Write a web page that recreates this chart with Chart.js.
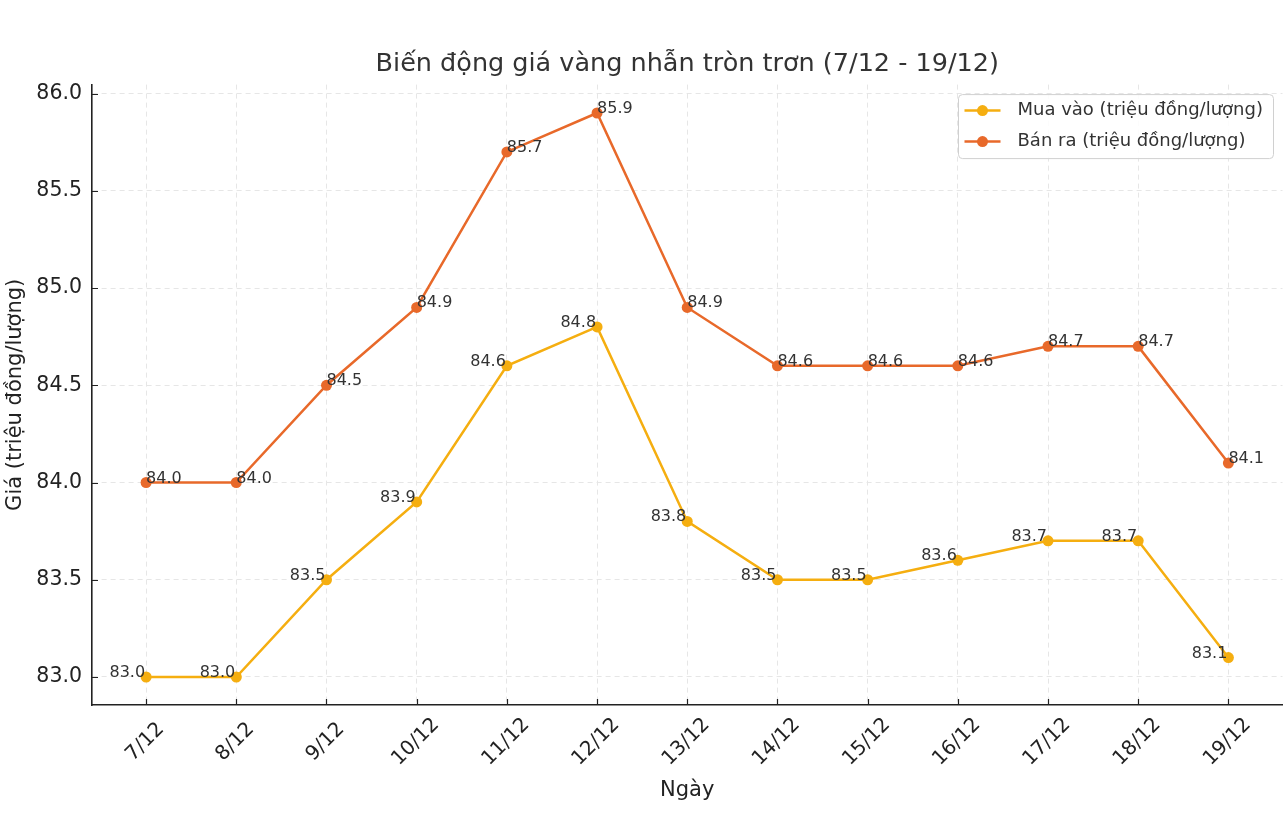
<!DOCTYPE html>
<html>
<head>
<meta charset="utf-8">
<script src="https://cdn.jsdelivr.net/npm/chart.js@4"></script>
<style>
  html, body { margin: 0; padding: 0; background: #fff; }
  #wrap { width: 1288px; height: 815px; }
</style>
</head>
<body>
<div id="wrap"><canvas id="goldChart" width="1288" height="815"></canvas></div>
<script>
const days = ['7/12', '8/12', '9/12', '10/12', '11/12', '12/12', '13/12', '14/12', '15/12', '16/12', '17/12', '18/12', '19/12'];
const buyPrice = [83.0, 83.0, 83.5, 83.9, 84.6, 84.8, 83.8, 83.5, 83.5, 83.6, 83.7, 83.7, 83.1];
const sellPrice = [84.0, 84.0, 84.5, 84.9, 85.7, 85.9, 84.9, 84.6, 84.6, 84.6, 84.7, 84.7, 84.1];
const yTicks = [83.0, 83.5, 84.0, 84.5, 85.0, 85.5, 86.0];

const buyColor = '#f5ae10';
const sellColor = '#e8692a';
const font = 'DejaVu Sans';

const toPoints = arr => arr.map((v, i) => ({ x: i, y: v }));

// value labels next to each point (matplotlib-style annotations)
const valueLabels = {
    id: 'valueLabels',
    afterDatasetsDraw(chart) {
        const c = chart.ctx;
        c.save();
        c.font = '16px "' + font + '"';
        c.fillStyle = '#333';
        c.textBaseline = 'alphabetic';
        chart.data.datasets.forEach((ds, di) => {
            const meta = chart.getDatasetMeta(di);
            meta.data.forEach((pt, i) => {
                const txt = ds.data[i].y.toFixed(1);
                if (di === 0) {
                    c.textAlign = 'right';
                    c.fillText(txt, pt.x - 1, pt.y);
                } else {
                    c.textAlign = 'left';
                    c.fillText(txt, pt.x, pt.y);
                }
            });
        });
        c.restore();
    }
};

// inward tick marks + centred, rotated x labels like matplotlib
const axisDecor = {
    id: 'axisDecor',
    afterDraw(chart) {
        const c = chart.ctx;
        const area = chart.chartArea;
        const xs = chart.scales.x, ys = chart.scales.y;
        c.save();
        c.strokeStyle = '#222';
        c.lineWidth = 1.2;
        c.beginPath();
        xs.ticks.forEach(t => {
            const px = Math.round(xs.getPixelForValue(t.value)) + 0.5;
            c.moveTo(px, area.bottom);
            c.lineTo(px, area.bottom - 6);
        });
        ys.ticks.forEach(t => {
            const py = Math.round(ys.getPixelForValue(t.value)) + 0.5;
            c.moveTo(area.left, py);
            c.lineTo(area.left + 6, py);
        });
        c.stroke();

        c.font = '20px "' + font + '"';
        c.fillStyle = '#222';
        c.textAlign = 'center';
        c.textBaseline = 'middle';
        days.forEach((d, i) => {
            const px = xs.getPixelForValue(i);
            c.save();
            c.translate(px - 1, area.bottom + 37);
            c.rotate(-Math.PI / 4);
            c.fillText(d, 0, 0);
            c.restore();
        });
        c.restore();
    }
};

// legend box in the upper right corner of the plot
const boxLegend = {
    id: 'boxLegend',
    afterDraw(chart) {
        const c = chart.ctx;
        const area = chart.chartArea;
        const w = 315, h = 64;
        const x0 = area.right - 9 - w, y0 = area.top + 10;
        c.save();
        c.beginPath();
        c.roundRect(x0, y0, w, h, 4);
        c.fillStyle = 'rgba(255,255,255,0.85)';
        c.fill();
        c.strokeStyle = '#d0d0d0';
        c.lineWidth = 1;
        c.stroke();
        c.font = '18px "' + font + '"';
        c.textAlign = 'left';
        c.textBaseline = 'middle';
        chart.data.datasets.forEach((ds, i) => {
            const y = y0 + 16 + i * 31;
            c.strokeStyle = ds.borderColor;
            c.lineWidth = 2.5;
            c.beginPath();
            c.moveTo(x0 + 6, y);
            c.lineTo(x0 + 42, y);
            c.stroke();
            c.fillStyle = ds.borderColor;
            c.beginPath();
            c.arc(x0 + 24, y, 5.5, 0, Math.PI * 2);
            c.fill();
            c.fillStyle = '#333';
            c.fillText(ds.label, x0 + 59, y);
        });
        c.restore();
    }
};

const data = {
    datasets: [
        {
            label: 'Mua vào (triệu đồng/lượng)',
            data: toPoints(buyPrice),
            borderColor: buyColor,
            backgroundColor: buyColor,
            borderWidth: 2.5,
            pointRadius: 5.5,
            pointHoverRadius: 5.5,
            pointBorderWidth: 0,
            tension: 0
        },
        {
            label: 'Bán ra (triệu đồng/lượng)',
            data: toPoints(sellPrice),
            borderColor: sellColor,
            backgroundColor: sellColor,
            borderWidth: 2.5,
            pointRadius: 5.5,
            pointHoverRadius: 5.5,
            pointBorderWidth: 0,
            tension: 0
        }
    ]
};

const config = {
    type: 'line',
    data: data,
    plugins: [valueLabels, axisDecor, boxLegend],
    options: {
        responsive: false,
        animation: false,
        layout: { padding: { left: 0, right: 5, top: 0, bottom: 0 } },
        plugins: {
            legend: { display: false },
            tooltip: { enabled: false },
            title: {
                display: true,
                fullSize: false,
                text: 'Biến động giá vàng nhẫn tròn trơn (7/12 - 19/12)',
                color: '#333',
                font: { family: font, size: 25.5, weight: 'normal' },
                padding: { top: 49, bottom: 5 }
            }
        },
        scales: {
            x: {
                type: 'linear',
                min: -0.6,
                max: 12.6,
                afterBuildTicks: axis => { axis.ticks = days.map((d, i) => ({ value: i })); },
                afterFit: axis => { axis.height = 110; },
                ticks: { display: false },
                grid: { color: '#e6e6e6', drawTicks: false },
                border: { display: true, color: '#222', width: 1.6, dash: [5, 4] },
                title: {
                    display: true,
                    text: 'Ngày',
                    color: '#222',
                    font: { family: font, size: 21 },
                    padding: { top: 0, bottom: 12 }
                }
            },
            y: {
                min: 82.856,
                max: 86.046,
                afterBuildTicks: axis => { axis.ticks = yTicks.map(v => ({ value: v })); },
                afterFit: axis => { axis.width = 92; },
                ticks: {
                    callback: v => v.toFixed(1),
                    color: '#222',
                    font: { family: font, size: 20.5 },
                    padding: 10
                },
                grid: { color: '#e6e6e6', drawTicks: false },
                border: { display: true, color: '#222', width: 1.6, dash: [5, 4] },
                title: {
                    display: true,
                    text: 'Giá (triệu đồng/lượng)',
                    color: '#222',
                    font: { family: font, size: 21 },
                    padding: { top: 3, bottom: 6 }
                }
            }
        }
    }
};

const goldChart = new Chart(document.getElementById('goldChart').getContext('2d'), config);
</script>
</body>
</html>
